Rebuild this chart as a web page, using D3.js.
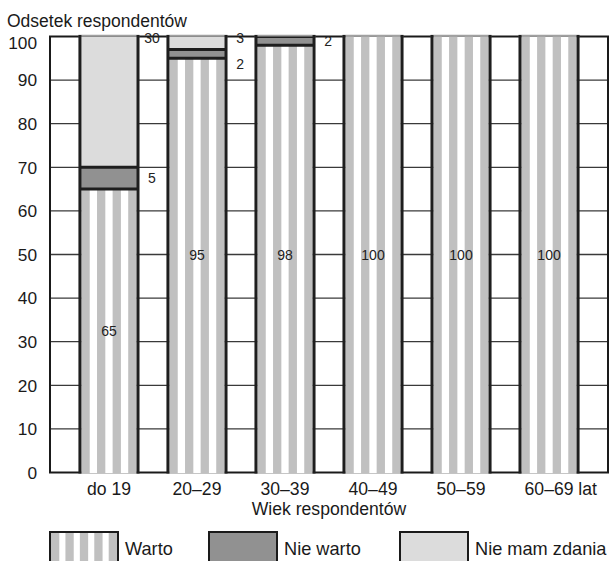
<!DOCTYPE html>
<html><head><meta charset="utf-8">
<script src="https://cdn.jsdelivr.net/npm/d3@7"></script>
<style>
html,body{margin:0;padding:0;background:#fff;}
svg{display:block;font-family:"Liberation Sans",Arial,sans-serif;}
.small{font-family:"Liberation Sans Narrow","Liberation Sans",Arial,sans-serif;font-stretch:condensed;}
</style>
</head><body>
<svg id="c" width="610" height="561"></svg>
<script>
const categories = ["do 19", "20–29", "30–39", "40–49", "50–59", "60–69"];
const unitSuffix = " lat";
const warto = [65, 95, 98, 100, 100, 100];
const nieWarto = [5, 2, 2, 0, 0, 0];
const nieMamZdania = [30, 3, 0, 0, 0, 0];
const yTicks = [0, 10, 20, 30, 40, 50, 60, 70, 80, 90, 100];
const seriesNames = ["Warto", "Nie warto", "Nie mam zdania"];
const yTitle = "Odsetek respondentów";
const xTitle = "Wiek respondentów";

const colStripe = "#c0c0c0", colNieWarto = "#919191", colZdanie = "#dcdcdc";
const svg = d3.select("#c");
const L = 50, R = 608, T = 36.5, B = 472.5;
const x = d3.scaleBand().domain(categories).range([L, R]).paddingInner(0.34).paddingOuter(0.34);
const y = d3.scaleLinear().domain([0, 100]).range([B, T]);

svg.append("g").selectAll("line").data(yTicks.filter(t => t > 0 && t < 100)).join("line")
  .attr("x1", L).attr("x2", R).attr("y1", d => y(d)).attr("y2", d => y(d))
  .attr("stroke", "#3a3a3a").attr("stroke-width", 1.3);
svg.append("rect").attr("x", L).attr("y", T).attr("width", R - L).attr("height", B - T)
  .attr("fill", "none").attr("stroke", "#1a1a1a").attr("stroke-width", 2);

svg.append("g").selectAll("text").data(yTicks).join("text")
  .attr("x", 37).attr("y", d => y(d) + (d === 100 ? 6 : 0))
  .attr("dy", "0.36em").attr("text-anchor", "end").attr("font-size", 17.3).attr("fill", "#1a1a1a")
  .text(d => d);
svg.append("text").attr("x", 7).attr("y", 27).attr("font-size", 17.5).attr("fill", "#1a1a1a").text(yTitle);

const bw = x.bandwidth();
const g = 8.3;
function stripes(sel, x0, w, yTop, yBot) {
  sel.append("rect").attr("x", x0).attr("y", yTop).attr("width", w).attr("height", yBot - yTop).attr("fill", "#fff");
  const n = Math.round((w + (w / 4.4 - g)) / 14.6);
  const step = (w - g) / (n - 1);
  for (let i = 0; i < n; i++) {
    sel.append("rect").attr("x", x0 + i * step).attr("y", yTop).attr("width", g)
      .attr("height", yBot - yTop).attr("fill", colStripe);
  }
}

categories.forEach((c, i) => {
  const gb = svg.append("g");
  const x0 = x(c), x1 = x0 + bw;
  const w1 = warto[i], w2 = nieWarto[i], w3 = nieMamZdania[i];
  stripes(gb, x0 + 1.5, bw - 3, y(w1), B + 1);
  if (w2 > 0) gb.append("rect").attr("x", x0).attr("width", bw).attr("y", y(w1 + w2)).attr("height", y(w1) - y(w1 + w2)).attr("fill", colNieWarto);
  if (w3 > 0) gb.append("rect").attr("x", x0).attr("width", bw).attr("y", y(w1 + w2 + w3)).attr("height", y(w1 + w2) - y(w1 + w2 + w3)).attr("fill", colZdanie);
  const lines = [];
  if (w1 < 100) lines.push(w1);
  if (w2 > 0) lines.push(w1 + w2);
  lines.forEach(v => gb.append("line").attr("x1", x0).attr("x2", x1).attr("y1", y(v)).attr("y2", y(v))
    .attr("stroke", "#1e1e1e").attr("stroke-width", 3));
  gb.append("line").attr("x1", x0 - 1.5).attr("x2", x1 + 1.5).attr("y1", y(100) - 0.8).attr("y2", y(100) - 0.8)
    .attr("stroke", "#a0a0a0").attr("stroke-width", 1.8);
  [x0, x1].forEach(xx => gb.append("line").attr("x1", xx).attr("x2", xx).attr("y1", y(100) - 1.5).attr("y2", B + 1)
    .attr("stroke", "#1e1e1e").attr("stroke-width", 3));
  svg.append("text").attr("class", "small").attr("x", x0 + bw / 2)
    .attr("y", y(w1 >= 90 ? 50 : w1 / 2)).attr("dy", "0.36em").attr("text-anchor", "middle")
    .attr("font-size", 14).attr("fill", "#222").text(w1);
  const outs = [];
  if (w3 > 0) outs.push({ v: w3, py: y(100) + 1 });
  if (w2 > 0) outs.push({ v: w2, py: Math.max(y(w1 + w2 / 2), y(100) + 1) });
  for (let k = 1; k < outs.length; k++) if (outs[k].py - outs[k - 1].py < 26) outs[k].py = outs[k - 1].py + 26;
  outs.forEach(o => svg.append("text").attr("class", "small").attr("x", x1 + 14).attr("y", o.py)
    .attr("dy", "0.36em").attr("text-anchor", "middle").attr("font-size", 14).attr("fill", "#222").text(o.v));
});

categories.forEach((c, i) => {
  const t = svg.append("text").attr("x", x(c) + bw / 2).attr("y", 495).attr("text-anchor", "middle")
    .attr("font-size", 17.6).attr("fill", "#1a1a1a").text(c);
  if (i === categories.length - 1) {
    const w = t.node().getComputedTextLength();
    t.attr("text-anchor", "start").attr("x", x(c) + bw / 2 - w / 2).text(c + unitSuffix);
  }
});
svg.append("text").attr("x", (L + R) / 2).attr("y", 515).attr("text-anchor", "middle")
  .attr("font-size", 17.6).attr("fill", "#1a1a1a").text(xTitle);

const legendX = [50, 209, 400];
const fills = [null, colNieWarto, colZdanie];
seriesNames.forEach((s, i) => {
  const lx = legendX[i];
  const lg = svg.append("g");
  if (i === 0) stripes(lg, lx + 1, 66, 533, 563);
  else lg.append("rect").attr("x", lx).attr("y", 532).attr("width", 68).attr("height", 32).attr("fill", fills[i]);
  lg.append("rect").attr("x", lx).attr("y", 532).attr("width", 68).attr("height", 32)
    .attr("fill", "none").attr("stroke", "#1a1a1a").attr("stroke-width", 2);
  lg.append("text").attr("x", lx + 75).attr("y", 555).attr("font-size", 18.2).attr("fill", "#1a1a1a").text(s);
});
</script>
</body></html>
